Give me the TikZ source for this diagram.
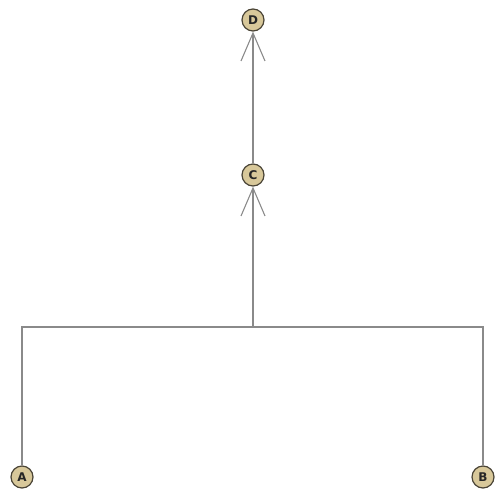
\documentclass[tikz,border=0pt]{standalone}
\usepackage{fontspec}
\setmainfont{DejaVu Sans}
\usetikzlibrary{arrows.meta}
\definecolor{nodefill}{HTML}{D8C89A}
\definecolor{nodeline}{HTML}{4A4436}
\definecolor{edge}{HTML}{8A8A8A}
\begin{document}
\begin{tikzpicture}[x=1pt,y=-1pt,
  vert/.style={circle,draw=nodeline,line width=1.2pt,fill=nodefill,minimum size=22pt,inner sep=0pt,font=\fontsize{12}{12}\selectfont\bfseries,text=black!85},
  link/.style={draw=edge,line width=1.1pt},
  openarrow/.style={-{Straight Barb[length=28pt,width=24pt,line width=1.1pt]}}]
\useasboundingbox (0,0) rectangle (494,494);
\fill[white] (0,0) rectangle (494,494);
\node[vert] (D) at (253,20) {D};
\node[vert] (C) at (253,175) {C};
\node[vert] (A) at (22,477) {A};
\node[vert] (B) at (483,477) {B};
\coordinate (J) at (253,327);
\coordinate (JL) at (22,327);
\coordinate (JR) at (483,327);
\draw[link] (A) -- (JL) -- (JR) -- (B);
\draw[link,openarrow] (J) -- (C);
\draw[link,openarrow] (C) -- (D);
\end{tikzpicture}
\end{document}
